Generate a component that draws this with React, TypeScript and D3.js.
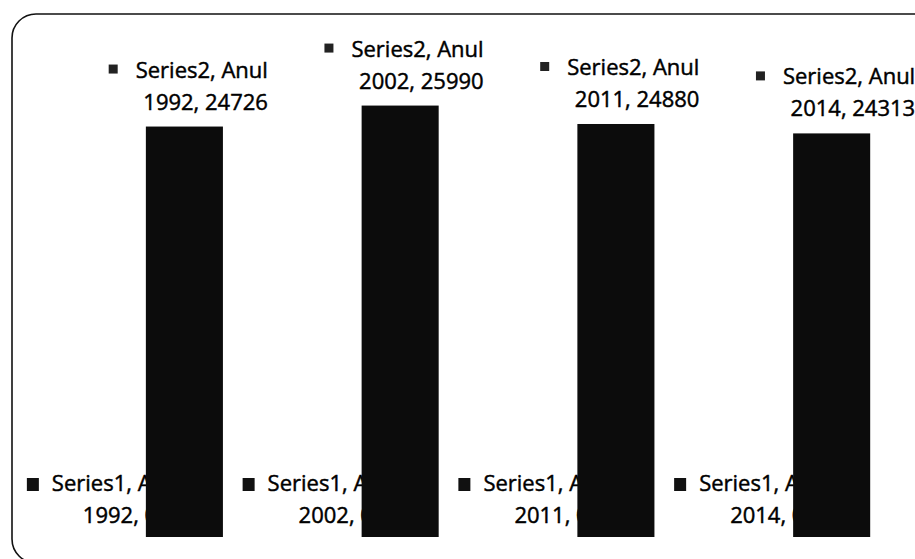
import React from "react";
import * as d3 from "d3";

const categories = ["Anul 1992", "Anul 2002", "Anul 2011", "Anul 2014"];
const seriesNames = ["Series1", "Series2"];
const series1Values = [0, 0, 0, 0];
const series2Values = [24726, 25990, 24880, 24313];
const yDomainMax = 30000;

const W = 915;
const H = 559;
const FONT = "'Open Sans', 'Noto Sans', sans-serif";
const FS = 22;

function measure(text: string): number {
  if (typeof document === "undefined") return text.length * FS * 0.5;
  const c = document.createElement("canvas");
  const ctx = c.getContext("2d");
  if (!ctx) return text.length * FS * 0.5;
  ctx.font = `${FS}px 'Open Sans'`;
  return ctx.measureText(text).width;
}

export default function App() {
  const plotLeft = 38;
  const plotRight = 901;
  const baseY = 537;
  const topY = 39;

  const x0 = d3
    .scaleBand<string>()
    .domain(categories)
    .range([plotLeft, plotRight])
    .paddingInner(0.2857)
    .paddingOuter(0.1428);
  const x1 = d3
    .scaleBand<string>()
    .domain(seriesNames)
    .range([0, x0.bandwidth()]);
  const y = d3.scaleLinear().domain([0, yDomainMax]).range([baseY, topY]);
  const bw = x1.bandwidth();

  const splitCat = (c: string) => {
    const parts = c.split(" ");
    return { word: parts[0], year: parts[1] };
  };

  const textStyle = { stroke: "#000", strokeWidth: 0.45 } as const;

  return (
    <svg
      width={W}
      height={H}
      viewBox={`0 0 ${W} ${H}`}
      style={{ position: "absolute", left: 0, top: 0, background: "#fff" }}
      fontFamily={FONT}
    >
      <rect x={0} y={0} width={W} height={H} fill="#fff" />
      <rect
        x={12}
        y={14}
        width={1000}
        height={549}
        rx={24}
        ry={24}
        fill="none"
        stroke="#111"
        strokeWidth={1.6}
      />

      {/* Series1 labels (drawn beneath the Series2 bars) */}
      {categories.map((c, i) => {
        const { word, year } = splitCat(c);
        const gx = (x0(c) as number) + (x1("Series1") as number);
        const gRight = gx + bw;
        const yv = y(series1Values[i]);
        return (
          <g key={"s1l" + c} fill="#000" fontSize={FS} {...textStyle}>
            <rect x={gRight - 119} y={yv - 59} width={12} height={13} fill="#111" stroke="none" />
            <text x={gRight - 94} y={yv - 46}>
              {`${seriesNames[0]}, ${word}`}
            </text>
            <text x={gRight - 63} y={yv - 14}>
              {`${year}, ${series1Values[i]}`}
            </text>
          </g>
        );
      })}

      {/* Series1 bars */}
      {categories.map((c, i) => (
        <rect
          key={"s1b" + c}
          x={(x0(c) as number) + (x1("Series1") as number)}
          y={y(series1Values[i])}
          width={bw}
          height={baseY - y(series1Values[i])}
          fill="#111"
        />
      ))}

      {/* Series2 bars */}
      {categories.map((c, i) => (
        <rect
          key={"s2b" + c}
          x={(x0(c) as number) + (x1("Series2") as number)}
          y={y(series2Values[i])}
          width={bw}
          height={baseY - y(series2Values[i])}
          fill="#0c0c0c"
        />
      ))}

      {/* Series2 labels */}
      {categories.map((c, i) => {
        const { word, year } = splitCat(c);
        const bx = (x0(c) as number) + (x1("Series2") as number);
        const rightX = bx + bw + 45;
        const top = y(series2Values[i]);
        const line1 = `${seriesNames[1]}, ${word}`;
        const w1 = measure(line1);
        return (
          <g key={"s2l" + c} fill="#000" fontSize={FS} {...textStyle}>
            <rect x={rightX - w1 - 18 - 9} y={top - 62} width={9} height={9} fill="#222" stroke="none" />
            <text x={rightX} y={top - 49} textAnchor="end">
              {line1}
            </text>
            <text x={rightX} y={top - 17} textAnchor="end">
              {`${year}, ${series2Values[i]}`}
            </text>
          </g>
        );
      })}
    </svg>
  );
}
